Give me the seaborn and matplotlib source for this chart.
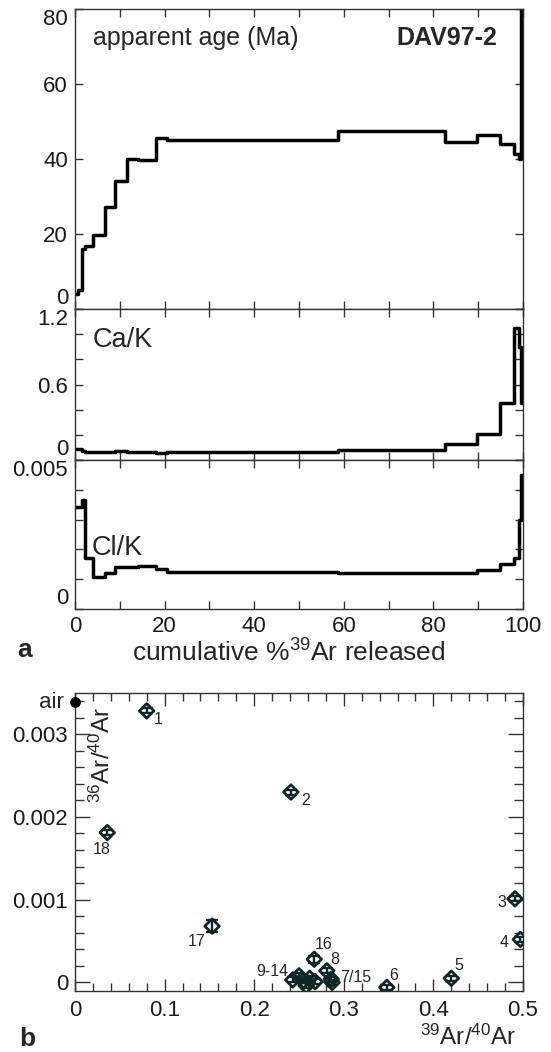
import numpy as np
import pandas as pd
import matplotlib
matplotlib.use("Agg")
import matplotlib.pyplot as plt
import seaborn as sns
from matplotlib.ticker import MultipleLocator, FuncFormatter

sns.set_theme(style="ticks")
plt.rcParams['font.family'] = ['Liberation Sans', 'DejaVu Sans']
plt.rcParams['mathtext.fontset'] = 'custom'
plt.rcParams['mathtext.rm'] = 'Liberation Sans'
plt.rcParams['mathtext.it'] = 'Liberation Sans'

# ---------------- data: step-heating spectrum ----------------
cum_edges = [0, 0.7, 1.5, 2.3, 4.1, 6.7, 8.9, 11.5, 14.1, 18.0, 20.5, 58.6,
             82.6, 89.8, 94.9, 98.0, 99.2, 99.6, 100]
age_ma = [4.0, 5.0, 15.9, 16.8, 19.8, 27.1, 34.2, 40.0, 39.8, 45.6, 45.1, 47.5,
          44.7, 46.4, 44.0, 41.4, 40.0, 95.0]
ca_k = [0.09, 0.09, 0.07, 0.066, 0.066, 0.066, 0.074, 0.066, 0.066, 0.053, 0.066,
        0.08, 0.13, 0.21, 0.45, 1.05, 0.9, 0.45]
cl_k = [0.00343, 0.00343, 0.00366, 0.0017, 0.00108, 0.00122, 0.0014, 0.0014,
        0.00145, 0.00134, 0.00125, 0.0012, 0.0012, 0.0013, 0.0015, 0.0017,
        0.0030, 0.0045]

# ---------------- data: isotope correlation ----------------
step_labels = ["1", "2", "3", "4", "5", "6", "7", "8", "9", "10", "11", "12",
               "13", "14", "15", "16", "17", "18"]
ar39_ar40 = [0.080, 0.241, 0.491, 0.497, 0.420, 0.348, 0.286, 0.281, 0.243, 0.250,
             0.255, 0.258, 0.262, 0.268, 0.287, 0.267, 0.153, 0.036]
ar36_ar40 = [0.00328, 0.00230, 0.00101, 0.00052, 0.00005, -0.00006, 0.00004,
             0.00014, 0.00003, 0.00008, 0.00002, -0.00004, 0.00005, 0.00001,
             0.0, 0.00028, 0.00068, 0.00181]
ar36_err = [0.00003, 0.00003, 0.00003, 0.00003, 0.00003, 0.00003, 0.00003,
            0.00003, 0.00003, 0.00003, 0.00003, 0.00003, 0.00003, 0.00003,
            0.00003, 0.00004, 0.00007, 0.00003]
air_ratio = 1 / 295.5

shown_labels = ["1", "2", "3", "4", "5", "6", "8", "16", "17", "18", "9-14", "7/15"]
label_anchor = ["1", "2", "3", "4", "5", "6", "8", "16", "17", "18", "9", "7"]

W, H = 551, 1052
fig = plt.figure(figsize=(W / 100, H / 100), dpi=100)

def fx(px):
    return px / W

def fy(py):
    return 1 - py / H

L, R = 75, 523
panels_px = [(9.3, 309), (309, 460), (460, 609)]
axes = []
for top, bot in panels_px:
    axes.append(fig.add_axes([fx(L), fy(bot), fx(R) - fx(L), (bot - top) / H]))
ax_b = fig.add_axes([fx(L), fy(990.7), fx(R) - fx(L), (990.7 - 692.7) / H])

spine_col = '#333333'
line_col = '#000000'
pt_col = '#0d2626'
tick_fs = 16
text_fs = 18

def style_axis(ax):
    for s in ax.spines.values():
        s.set_visible(True)
        s.set_color(spine_col)
        s.set_linewidth(1.0)
    ax.tick_params(which='both', direction='in', top=True, right=True,
                   color=spine_col, labelsize=tick_fs, labelcolor='#1a1a1a')
    ax.tick_params(axis='y', pad=5)
    ax.tick_params(axis='x', pad=5)
    ax.tick_params(which='major', length=6, width=1.0)
    ax.tick_params(which='minor', length=3.5, width=1.0)
    ax.set_facecolor('white')

def step_xy(vals):
    return pd.DataFrame({"x": cum_edges, "y": list(vals) + [vals[-1]]})

series = [age_ma, ca_k, cl_k]
ylims = [(0, 80), (0, 1.2), (0, 0.005)]
yticks_major = [20, 0.2, 0.001]
ylabels_show = [[0, 20, 40, 60, 80], [0, 0.6, 1.2], [0, 0.005]]
for i, ax in enumerate(axes):
    d = step_xy(series[i])
    sns.lineplot(data=d, x="x", y="y", ax=ax, drawstyle='steps-post', color=line_col,
                 lw=2.5, estimator=None, sort=False)
    ax.set_xlim(0, 100)
    ax.set_ylim(*ylims[i])
    style_axis(ax)
    ax.xaxis.set_major_locator(MultipleLocator(10))
    ax.yaxis.set_major_locator(MultipleLocator(yticks_major[i]))
    show = ylabels_show[i]

    def yfmt(v, pos, show=show):
        for s in show:
            if abs(v - s) < 1e-9:
                return ('%g' % s)
        return ''
    ax.yaxis.set_major_formatter(FuncFormatter(yfmt))
    ax.set_xlabel('')
    ax.set_ylabel('')
    if i < 2:
        ax.tick_params(labelbottom=False)
    else:
        ax.xaxis.set_major_formatter(FuncFormatter(
            lambda v, p: ('%d' % v) if int(round(v)) % 20 == 0 else ''))

fig.canvas.draw()
for ax, lim in zip(axes, ylims):
    for lab, loc in zip(ax.get_yticklabels(), ax.get_yticks()):
        if abs(loc - lim[1]) < 1e-9:
            lab.set_va('top')
        elif abs(loc - lim[0]) < 1e-9:
            lab.set_va('bottom')

axes[0].text(4.0, 80 - 29 / 300 * 80, 'apparent age (Ma)',
             fontsize=text_fs, va='center', ha='left')
axes[0].text(94.2, 80 - 29 / 300 * 80, 'DAV97-2',
             fontsize=text_fs, fontweight='bold', va='center', ha='right')
axes[1].text(4.0, 0.955, 'Ca/K', fontsize=19.5, va='center', ha='left')
axes[2].text(3.8, 0.00204, 'Cl/K', fontsize=19.5, va='center', ha='left')

fig.text(fx(289), fy(653), r'cumulative %$^{39}$Ar released', fontsize=19,
         ha='center', va='center')
fig.text(fx(25), fy(650), 'a', fontsize=19, fontweight='bold', ha='center', va='center')

# ---------------- panel b ----------------
pts = pd.DataFrame({"step": step_labels, "x": ar39_ar40, "y": ar36_ar40, "e": ar36_err})
ax_b.errorbar(pts["x"], pts["y"], yerr=pts["e"], fmt='none', ecolor=pt_col,
              elinewidth=1.7, capsize=4, capthick=1.7, zorder=3)
sns.scatterplot(data=pts, x="x", y="y", ax=ax_b, marker='D', s=55,
                facecolor='none', edgecolor=pt_col, linewidth=2.0, zorder=4)
ax_b.scatter([0], [air_ratio], s=45, color='black', zorder=5, clip_on=False)
ax_b.text(-0.012, air_ratio, 'air', fontsize=16, ha='right', va='center')

ax_b.set_xlim(0, 0.5)
ax_b.set_ylim(-0.0001, 0.0035)
style_axis(ax_b)
ax_b.tick_params(axis='x', which='major', length=9, pad=7)
ax_b.tick_params(axis='x', which='minor', length=5.5)
ax_b.tick_params(axis='y', which='major', length=11)
ax_b.tick_params(axis='y', which='minor', length=6.5)
ax_b.xaxis.set_major_locator(MultipleLocator(0.1))
ax_b.xaxis.set_minor_locator(MultipleLocator(0.02))
ax_b.yaxis.set_major_locator(MultipleLocator(0.001))
ax_b.yaxis.set_minor_locator(MultipleLocator(0.0002))
ax_b.xaxis.set_major_formatter(FuncFormatter(lambda v, p: '0' if abs(v) < 1e-9 else '%g' % v))
ax_b.yaxis.set_major_formatter(FuncFormatter(lambda v, p: '0' if abs(v) < 1e-12 else '%g' % v))
ax_b.set_xlabel('')
ax_b.set_ylabel('')

offsets_px = {"1": (12, -9), "2": (15, -8), "3": (-13, -4), "4": (-16, -3),
              "5": (7, 13), "6": (6.5, 12), "8": (7.5, 11), "16": (9, 15),
              "17": (-15, -15), "18": (-6, -17), "9-14": (-20, 8), "7/15": (24, 2)}
for txt, anc in zip(shown_labels, label_anchor):
    r = pts[pts["step"] == anc].iloc[0]
    ax_b.annotate(txt, (r["x"], r["y"]), xytext=offsets_px[txt],
                  textcoords='offset pixels', fontsize=11.5, ha='center', va='center')

ax_b.text(0.0305, 0.00275, r'$^{36}$Ar/$^{40}$Ar', rotation=90, fontsize=17.5,
          ha='center', va='center')
fig.text(fx(468), fy(1037), r'$^{39}$Ar/$^{40}$Ar', fontsize=17.5, ha='center', va='center')
fig.text(fx(27), fy(1039), 'b', fontsize=19, fontweight='bold', ha='center', va='center')

fig.savefig('out.png', dpi=100, facecolor='white')
